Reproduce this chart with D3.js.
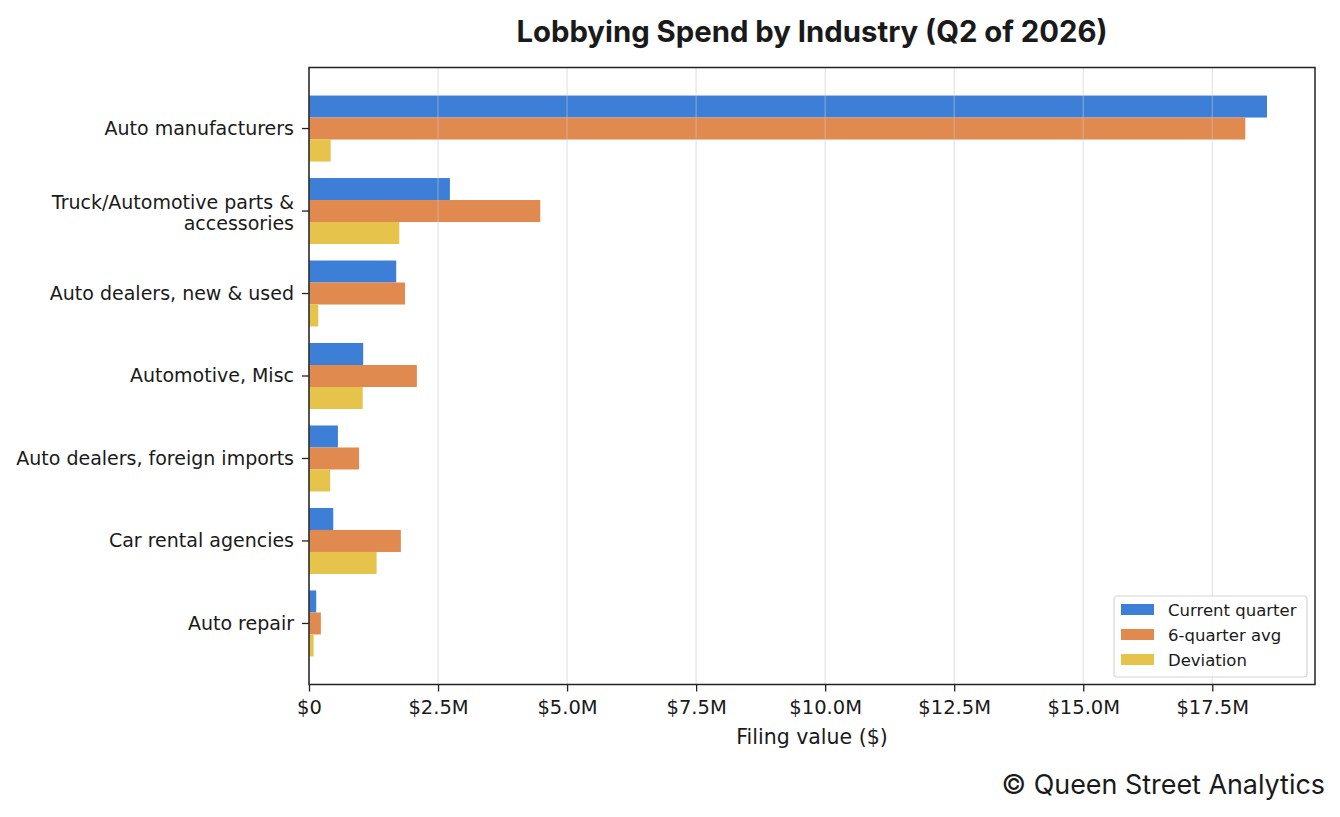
<!DOCTYPE html>
<html>
<head>
<meta charset="utf-8">
<script src="https://cdn.jsdelivr.net/npm/d3@7"></script>
<style>
  body { margin: 0; background: #fff; }
  text { fill: #1a1a1a; }
</style>
</head>
<body>
<script>
// Chart data (values in dollars)
var industries = [
  "Auto manufacturers",
  "Truck/Automotive parts & accessories",
  "Auto dealers, new & used",
  "Automotive, Misc",
  "Auto dealers, foreign imports",
  "Car rental agencies",
  "Auto repair"
];
var seriesNames = ["Current quarter", "6-quarter avg", "Deviation"];
var currentQuarter = [18560000, 2730000, 1690000, 1050000, 560000, 470000, 140000];
var sixQuarterAvg  = [18140000, 4480000, 1860000, 2090000, 970000, 1780000, 230000];
var deviation      = [420000, 1750000, 180000, 1040000, 410000, 1310000, 90000];
var xTicks = [0, 2500000, 5000000, 7500000, 10000000, 12500000, 15000000, 17500000];

var colors = ["#3d7fd6", "#e08a50", "#e6c44c"];

var width = 1340, height = 817;
var plot = { left: 309, right: 1315, top: 67.5, bottom: 684.5 };

var svg = d3.select("body").append("svg")
  .attr("width", width)
  .attr("height", height);

// Scales
var x = d3.scaleLinear()
  .domain([0, 19490000])
  .range([plot.left, plot.right]);

var y = d3.scaleBand()
  .domain(industries)
  .range([plot.top, plot.bottom])
  .paddingInner(0.2)
  .paddingOuter(0.34);

var ySub = d3.scaleBand()
  .domain(seriesNames)
  .range([0, y.bandwidth()]);

var allSeries = [currentQuarter, sixQuarterAvg, deviation];

// Bars
var groups = svg.selectAll(".group")
  .data(industries)
  .enter().append("g")
  .attr("class", "group")
  .attr("transform", function(d){ return "translate(0," + y(d) + ")"; });

groups.selectAll("rect")
  .data(function(d, i){
    return seriesNames.map(function(s, j){ return { series: s, value: allSeries[j][i], idx: j }; });
  })
  .enter().append("rect")
  .attr("x", x(0))
  .attr("y", function(d){ return ySub(d.series); })
  .attr("width", function(d){ return x(d.value) - x(0); })
  .attr("height", ySub.bandwidth())
  .attr("fill", function(d){ return colors[d.idx]; });

// Grid lines on top of bars, faint
svg.append("g")
  .selectAll("line")
  .data(xTicks)
  .enter().append("line")
  .attr("x1", function(d){ return x(d); })
  .attr("x2", function(d){ return x(d); })
  .attr("y1", plot.top)
  .attr("y2", plot.bottom)
  .attr("stroke", "#c8c8c8")
  .attr("stroke-opacity", 0.45)
  .attr("stroke-width", 1.3);

// X axis
var fmt = function(v){ return v === 0 ? "$0" : "$" + (v / 1e6).toFixed(1) + "M"; };
var xAxis = svg.append("g")
  .attr("transform", "translate(0," + plot.bottom + ")")
  .call(d3.axisBottom(x).tickValues(xTicks).tickFormat(fmt).tickSizeOuter(0).tickSize(7).tickPadding(9));
xAxis.select(".domain").remove();
xAxis.selectAll("line").attr("stroke", "#222").attr("stroke-width", 1.3);
xAxis.selectAll("text")
  .style("font-family", "DejaVu Sans")
  .style("font-size", "19.5px")
  .attr("fill", "#1a1a1a");

// Y axis
var yAxis = svg.append("g")
  .attr("transform", "translate(" + plot.left + ",0)")
  .call(d3.axisLeft(y).tickSizeOuter(0).tickSize(7).tickPadding(8));
yAxis.select(".domain").remove();
yAxis.selectAll("line").attr("stroke", "#222").attr("stroke-width", 1.3);
yAxis.selectAll("text")
  .style("font-family", "DejaVu Sans")
  .style("font-size", "19px")
  .attr("fill", "#1a1a1a")
  .each(function(d){
    // wrap long label in two lines
    if (d.length > 30) {
      var t = d3.select(this).text(null).attr("dy", null);
      var parts = ["Truck/Automotive parts &", "accessories"];
      t.append("tspan").attr("x", -15).attr("y", -2.5).text(parts[0]);
      t.append("tspan").attr("x", -15).attr("y", 18.5).text(parts[1]);
    }
  });

// Frame
svg.append("rect")
  .attr("x", plot.left)
  .attr("y", plot.top)
  .attr("width", plot.right - plot.left)
  .attr("height", plot.bottom - plot.top)
  .attr("fill", "none")
  .attr("stroke", "#222")
  .attr("stroke-width", 1.5);

// Axis label
svg.append("text")
  .attr("x", (plot.left + plot.right) / 2)
  .attr("y", 744)
  .attr("text-anchor", "middle")
  .style("font-family", "DejaVu Sans")
  .style("font-size", "20.5px")
  .text("Filing value ($)");

// Title
svg.append("text")
  .attr("x", (plot.left + plot.right) / 2)
  .attr("y", 42)
  .attr("text-anchor", "middle")
  .style("font-family", "Inter")
  .style("font-weight", "700")
  .style("font-size", "29.3px")
  .text("Lobbying Spend by Industry (Q2 of 2026)");

// Legend
var legend = svg.append("g").attr("transform", "translate(1114,596)");
legend.append("rect")
  .attr("width", 193)
  .attr("height", 81)
  .attr("rx", 3)
  .attr("fill", "#fff")
  .attr("fill-opacity", 0.85)
  .attr("stroke", "#d6d6d6")
  .attr("stroke-width", 1.2);
var items = legend.selectAll(".item")
  .data(seriesNames)
  .enter().append("g")
  .attr("transform", function(d, i){ return "translate(7," + (8 + i * 25) + ")"; });
items.append("rect")
  .attr("width", 33)
  .attr("height", 11)
  .attr("fill", function(d, i){ return colors[i]; });
items.append("text")
  .attr("x", 47)
  .attr("y", 11.5)
  .style("font-family", "DejaVu Sans")
  .style("font-size", "16.5px")
  .text(function(d){ return d; });

// Footer credit
svg.append("text")
  .attr("x", 1325)
  .attr("y", 794)
  .attr("text-anchor", "end")
  .style("font-family", "Inter")
  .style("font-size", "26.9px")
  .attr("fill", "#222")
  .text("\u00A9 Queen Street Analytics");
</script>
</body>
</html>
